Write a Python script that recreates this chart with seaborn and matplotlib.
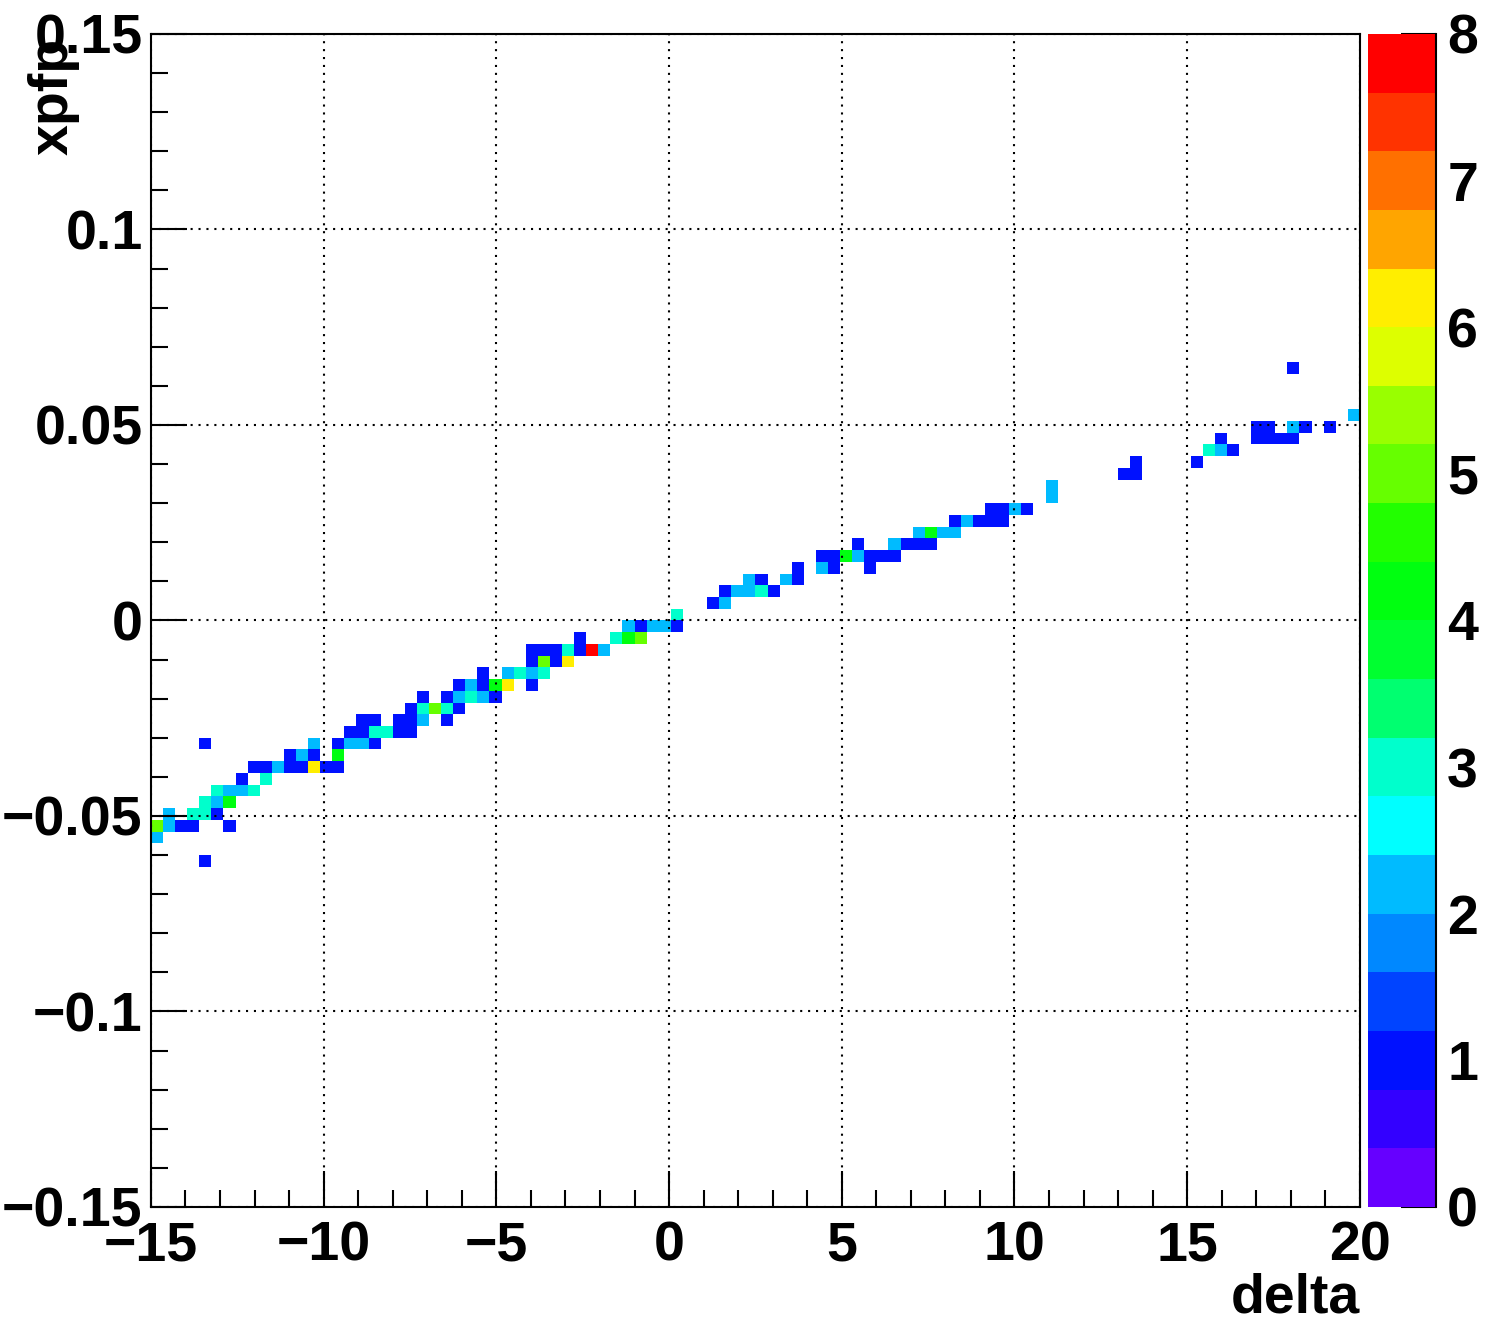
import numpy as np
import pandas as pd
import seaborn as sns
import matplotlib.pyplot as plt
from matplotlib.colors import ListedColormap
from matplotlib.ticker import MultipleLocator, FuncFormatter

# filled cells of the 2D histogram, one entry per xpfp row (bin centre)
xpfp_rows = [-0.0615, -0.0555, -0.0525, -0.0495, -0.0465, -0.0435, -0.0405, -0.0375,
             -0.0345, -0.0315, -0.0285, -0.0255, -0.0225, -0.0195, -0.0165, -0.0135,
             -0.0105, -0.0075, -0.0045, -0.0015, 0.0015, 0.0045, 0.0075, 0.0105,
             0.0135, 0.0165, 0.0195, 0.0225, 0.0255, 0.0285, 0.0315, 0.0345,
             0.0375, 0.0405, 0.0435, 0.0465, 0.0495, 0.0525, 0.0645]

delta_rows = [
    [-13.425],
    [-14.825],
    [-14.825, -14.475, -14.125, -13.775, -12.725],
    [-14.475, -13.775, -13.425, -13.075],
    [-13.425, -13.075, -12.725],
    [-13.075, -12.725, -12.375, -12.025],
    [-12.375, -11.675],
    [-12.025, -11.675, -11.325, -10.975, -10.625, -10.275, -9.925, -9.575],
    [-10.975, -10.625, -10.275, -9.575],
    [-13.425, -10.275, -9.575, -9.225, -8.875, -8.525],
    [-9.225, -8.875, -8.525, -8.175, -7.825, -7.475],
    [-8.875, -8.525, -7.825, -7.475, -7.125, -6.425],
    [-7.475, -7.125, -6.775, -6.425, -6.075],
    [-7.125, -6.425, -6.075, -5.725, -5.375, -5.025],
    [-6.075, -5.725, -5.375, -5.025, -4.675, -3.975],
    [-5.375, -4.675, -4.325, -3.975, -3.625],
    [-3.975, -3.625, -3.275, -2.925],
    [-3.975, -3.625, -3.275, -2.925, -2.575, -2.225, -1.875],
    [-2.575, -1.525, -1.175, -0.825],
    [-1.175, -0.825, -0.475, -0.125, 0.225],
    [0.225],
    [1.275, 1.625],
    [1.625, 1.975, 2.325, 2.675, 3.025],
    [2.325, 2.675, 3.375, 3.725],
    [3.725, 4.425, 4.775, 5.825],
    [4.425, 4.775, 5.125, 5.475, 5.825, 6.175, 6.525],
    [5.475, 6.525, 6.875, 7.225, 7.575],
    [7.225, 7.575, 7.925, 8.275],
    [8.275, 8.625, 8.975, 9.325, 9.675],
    [9.325, 9.675, 10.025, 10.375],
    [11.075],
    [11.075],
    [13.175, 13.525],
    [13.525, 15.275],
    [15.625, 15.975, 16.325],
    [15.975, 17.025, 17.375, 17.725, 18.075],
    [17.025, 17.375, 18.075, 18.425, 19.125],
    [19.825],
    [18.075],
]

count_rows = [
    [1],
    [2],
    [5, 2, 1, 1, 1],
    [2, 3, 3, 1],
    [3, 2, 4],
    [3, 2, 2, 3],
    [1, 3],
    [1, 1, 2, 1, 1, 6, 1, 1],
    [1, 2, 1, 4],
    [1, 2, 1, 2, 2, 1],
    [1, 1, 3, 3, 1, 1],
    [1, 1, 1, 1, 2, 1],
    [1, 3, 5, 3, 1],
    [1, 1, 2, 3, 2, 1],
    [1, 2, 1, 4, 6, 1],
    [1, 2, 3, 2, 3],
    [1, 5, 1, 6],
    [1, 1, 1, 3, 1, 8, 2],
    [1, 3, 4, 5],
    [2, 1, 2, 2, 1],
    [3],
    [1, 2],
    [1, 2, 2, 3, 1],
    [2, 1, 2, 1],
    [1, 2, 1, 1],
    [1, 1, 4, 2, 1, 1, 1],
    [1, 2, 1, 1, 1],
    [2, 4, 2, 2],
    [1, 2, 1, 1, 1],
    [1, 1, 2, 1],
    [2],
    [2],
    [1, 1],
    [1, 1],
    [3, 2, 1],
    [1, 1, 1, 1, 1],
    [1, 1, 2, 1, 1],
    [2],
    [1],
]

# 20 colour levels from 0 to 8 (root style rainbow)
level_colors = ['#6600ff', '#3300ff', '#0011ff', '#0044ff', '#0088ff',
                '#00bbff', '#00ffff', '#00ffcc', '#00ff70', '#00ff30',
                '#00ff10', '#22ff00', '#66ff00', '#99ff00', '#ddff00',
                '#ffee00', '#ffa500', '#ff7000', '#ff3300', '#ff0000']

delta, xpfp, counts = [], [], []
for y, xs, cs in zip(xpfp_rows, delta_rows, count_rows):
    for x, c in zip(xs, cs):
        delta.append(x)
        xpfp.append(y)
        counts.append(c)
df = pd.DataFrame({'delta': delta, 'xpfp': xpfp, 'counts': counts})

sns.set_theme(style="white")
plt.rcParams['font.family'] = ['Liberation Sans', 'DejaVu Sans']
plt.rcParams['font.weight'] = 'bold'
plt.rcParams['text.color'] = 'black'
plt.rcParams['axes.labelcolor'] = 'black'
plt.rcParams['xtick.color'] = 'black'
plt.rcParams['ytick.color'] = 'black'


def fmt(v, _):
    if abs(v) < 1e-9:
        return "0"
    return f"{round(v, 3):g}".replace('-', '\u2212')


fig = plt.figure(figsize=(15.08, 13.30), dpi=100)
ax = fig.add_axes([0.1001, 0.0925, 0.8017, 0.8820])
cax = fig.add_axes([0.9072, 0.0925, 0.0451, 0.8820])

sns.histplot(data=df, x='delta', y='xpfp', weights='counts',
             bins=100, binrange=((-15, 20), (-0.15, 0.15)),
             cmap=ListedColormap(level_colors), vmin=0, vmax=8,
             cbar=True, cbar_ax=cax, cbar_kws={'ticks': range(9)}, ax=ax)

ax.set_xlim(-15, 20)
ax.set_ylim(-0.15, 0.15)
ax.xaxis.set_major_locator(MultipleLocator(5))
ax.xaxis.set_minor_locator(MultipleLocator(1))
ax.yaxis.set_major_locator(MultipleLocator(0.05))
ax.yaxis.set_minor_locator(MultipleLocator(0.01))
ax.xaxis.set_major_formatter(FuncFormatter(fmt))
ax.yaxis.set_major_formatter(FuncFormatter(fmt))
ax.tick_params(which='both', direction='in', color='black', labelcolor='black',
               width=1.5, labelsize=40, bottom=True, left=True, top=False, right=False)
ax.tick_params(which='major', length=26)
ax.tick_params(which='minor', length=12)
ax.tick_params(axis='x', pad=10)
ax.tick_params(axis='y', pad=6)
ax.set_axisbelow(False)
ax.grid(True, which='major', color='black', linestyle=(0, (1, 2.8)), linewidth=1.5)
for s in ax.spines.values():
    s.set_color('black')
    s.set_linewidth(1.5)

ax.set_xlabel('delta', fontsize=40, fontweight='bold', loc='right', color='black')
ax.set_ylabel('xpfp', fontsize=40, fontweight='bold', loc='top', color='black')
ax.xaxis.set_label_coords(1.0, -0.056)
ax.yaxis.set_label_coords(-0.059, 0.997)

# colour scale on the right
cax.tick_params(direction='in', length=25, width=1.5, color='black', labelcolor='black',
                labelsize=40, pad=8, right=True, left=False)
cax.minorticks_off()
cbar = ax.collections[0].colorbar
cbar.outline.set_visible(False)
cax.spines['right'].set_visible(True)
cax.spines['right'].set_color('black')
cax.spines['right'].set_linewidth(1.5)

fig.savefig('out.png', dpi=100)
